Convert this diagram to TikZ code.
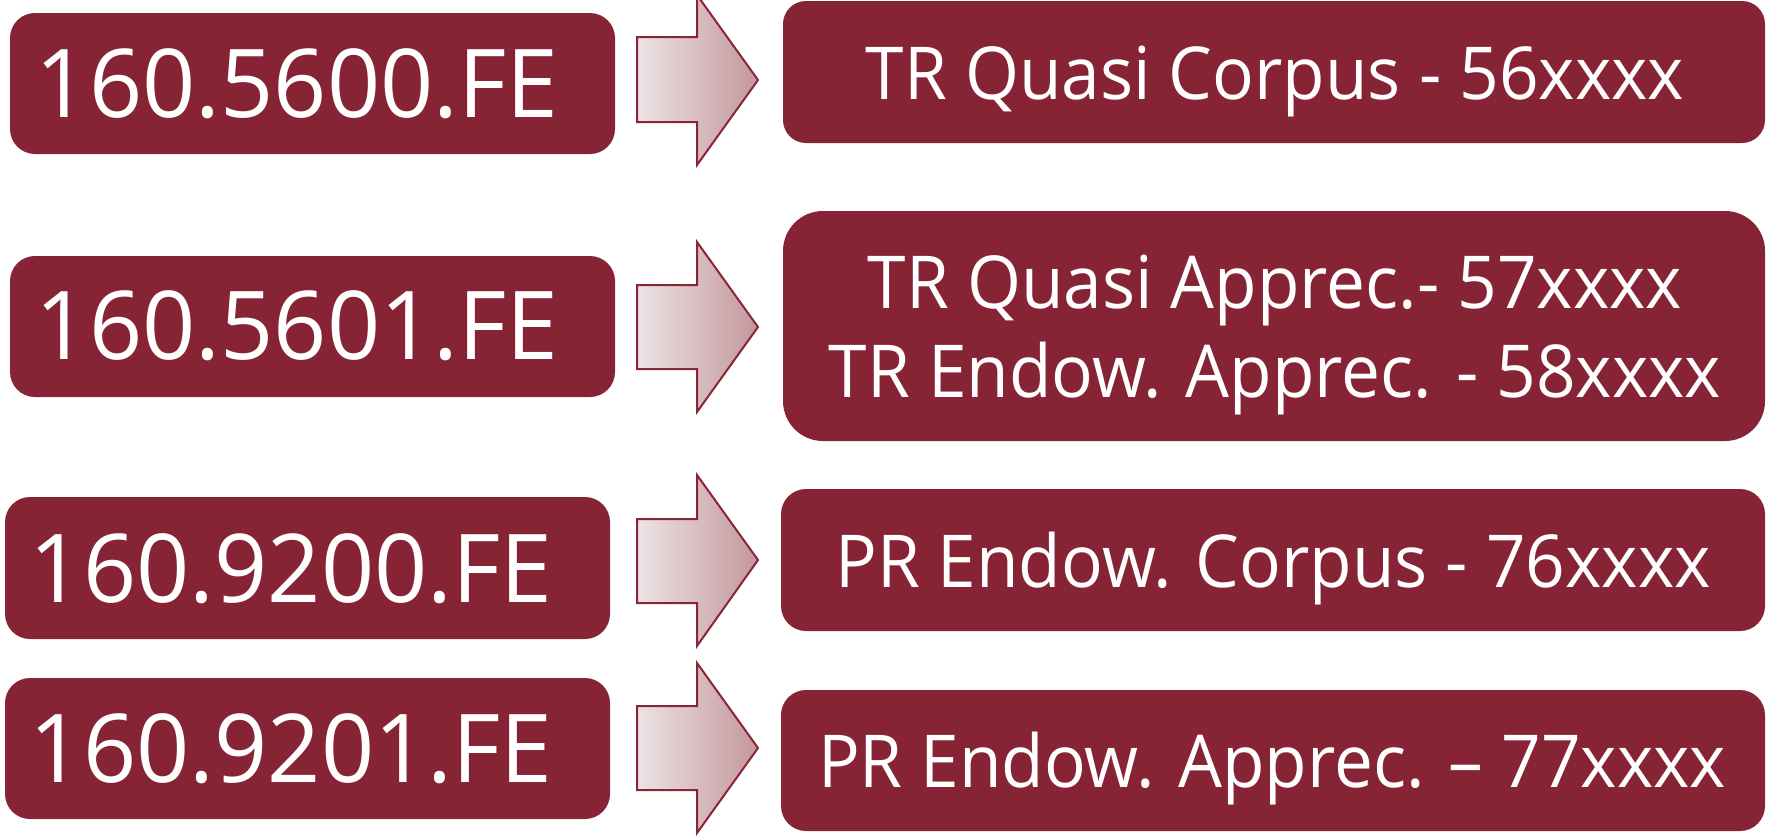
\documentclass[tikz,border=0pt]{standalone}
\usepackage{fontspec}
\setmainfont{Open Sans}[FakeStretch=0.95]
\newfontfamily\codefont{Open Sans}[FakeStretch=0.98]
\usetikzlibrary{fit}
\definecolor{boxred}{HTML}{862436}
\definecolor{arrowline}{HTML}{8A2538}
\definecolor{arrowL}{HTML}{EDE3E5}
\definecolor{arrowR}{HTML}{C3979C}
\begin{document}
\begin{tikzpicture}[x=0.5pt,y=-0.5pt,
  codebox/.style={fill=boxred, draw=none, rounded corners=12.5pt, inner sep=0pt},
  bigbox/.style={codebox, rounded corners=20pt},
  codetext/.style={text=white, font=\codefont\fontsize{47.5pt}{57pt}\selectfont, anchor=base, inner sep=0pt},
  nametext/.style={text=white, font=\fontsize{36.5pt}{44.5pt}\selectfont, anchor=base, inner sep=0pt},
  blockarrow/.style={draw=arrowline, line width=1pt, left color=arrowL, right color=arrowR, line join=miter}]
\useasboundingbox (0,0) rectangle (1767,836);

% left boxes
\node[codebox, fit={(10,13) (615,154)}] (L1) {};
\node[codebox, fit={(10,256) (615,397)}] (L2) {};
\node[codebox, fit={(5,497) (610,639)}] (L3) {};
\node[codebox, fit={(5,678) (610,819)}] (L4) {};

% right boxes
\node[codebox, rounded corners=11.5pt, fit={(783,1) (1765,143)}] (R1) {};
\node[bigbox, fit={(783,211) (1765,441)}] (R2) {};
\node[codebox, fit={(781,489) (1765,631)}] (R3) {};
\node[codebox, fit={(781,690) (1765,831)}] (R4) {};

% texts
\node[codetext] (t1) at (297,117) {160.5600.FE};
\node[codetext] (t2) at (297,359) {160.5601.FE};
\node[codetext] (t3) at (291,602) {160.9200.FE};
\node[codetext] (t4) at (291,782) {160.9201.FE};

\node[nametext] (n1) at (1275,99) {TR Quasi Corpus - 56xxxx};
\node[nametext] (n2a) at (1275,308) {TR Quasi Apprec.- 57xxxx};
\node[nametext] (n2b) at (1275,397) {TR Endow. Apprec. - 58xxxx};
\node[nametext] (n3) at (1273,587) {PR Endow. Corpus - 76xxxx};
\node[nametext] (n4) at (1272,787) {PR Endow. Apprec. – 77xxxx};

% block arrows
\draw[blockarrow] (637,37) -- (697,37) -- (697,-5) -- (758,80) -- (697,165) -- (697,122) -- (637,122) -- cycle;
\draw[blockarrow] (637,285) -- (697,285) -- (697,242) -- (758,327) -- (697,412) -- (697,369) -- (637,369) -- cycle;
\draw[blockarrow] (637,519) -- (697,519) -- (697,475) -- (758,560) -- (697,646) -- (697,603) -- (637,603) -- cycle;
\draw[blockarrow] (637,706) -- (697,706) -- (697,663) -- (758,748) -- (697,833) -- (697,790) -- (637,790) -- cycle;
\end{tikzpicture}
\end{document}
